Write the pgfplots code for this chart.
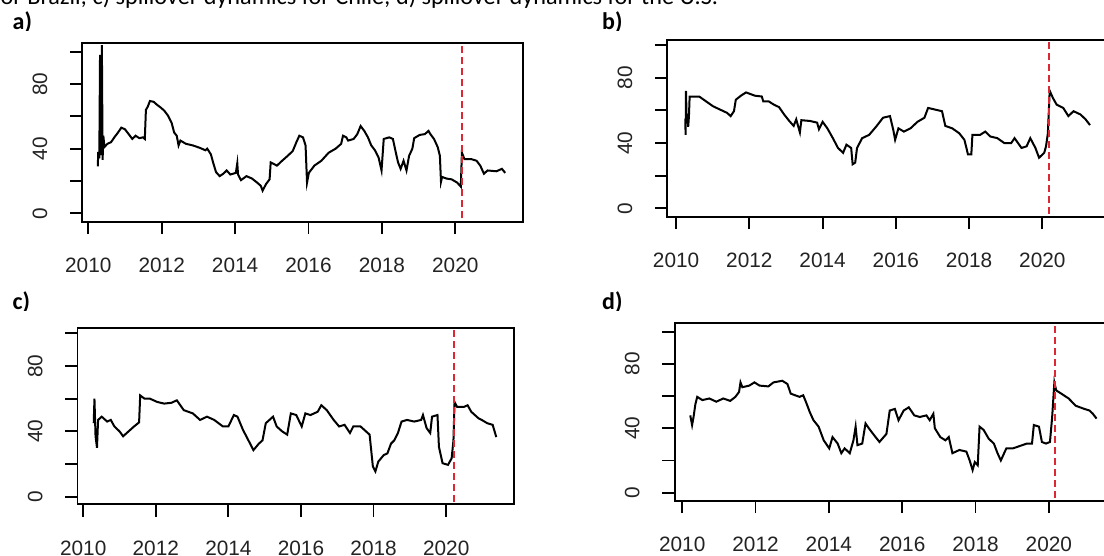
\documentclass[border=0pt]{standalone}
\usepackage{pgfplots}
\pgfplotsset{compat=1.18}
\usepackage{fontspec}
\setmainfont{Liberation Sans}
\newfontfamily\calib{Carlito}
\definecolor{rred}{RGB}{220,40,50}
\definecolor{tl}{RGB}{35,35,35}

\pgfplotstableread{
x y
2010.26 29
2010.27 38
2010.30 34
2010.32 98
2010.34 36
2010.37 104
2010.39 33
2010.41 48
2010.44 41
2010.52 43
2010.62 44
2010.71 47
2010.81 50
2010.90 53
2011.00 52
2011.10 49
2011.20 46
2011.29 48
2011.39 46.5
2011.49 47
2011.54 46
2011.57 64
2011.62 66
2011.68 69.5
2011.78 69
2011.88 67
2011.97 65.5
2012.07 63.5
2012.17 60.5
2012.27 56
2012.34 50
2012.41 48
2012.46 42
2012.51 45
2012.66 43
2012.85 42
2013.04 40.5
2013.19 39
2013.24 40
2013.34 36.5
2013.40 31.5
2013.48 25.5
2013.58 23
2013.68 24.5
2013.77 26.5
2013.87 24
2014.02 25
2014.06 31
2014.08 24
2014.16 20.5
2014.31 23
2014.46 21.5
2014.60 19
2014.70 17
2014.75 14
2014.84 18
2014.94 21
2014.97 31.5
2015.14 29.5
2015.28 32.5
2015.43 35.5
2015.57 38.5
2015.67 44
2015.75 48
2015.85 47
2015.92 42
2015.96 19
2016.01 25
2016.16 29.5
2016.35 32.5
2016.55 37.5
2016.74 40
2016.89 43
2016.94 48
2017.03 47
2017.08 45
2017.23 46
2017.33 49
2017.42 54
2017.52 51
2017.62 47
2017.71 42
2017.81 39
2017.91 34.5
2017.99 26.5
2018.05 46
2018.20 47
2018.30 46
2018.38 37.5
2018.44 31.5
2018.51 27.5
2018.59 32.5
2018.67 26.5
2018.74 35.5
2018.83 40
2018.88 46.5
2019.03 48.5
2019.17 49
2019.27 51
2019.32 49
2019.42 46
2019.52 41
2019.58 35.5
2019.61 19.5
2019.64 22.5
2019.76 21.5
2019.90 21
2020.05 19
2020.15 16.5
2020.18 37.5
2020.25 33.5
2020.44 33.5
2020.58 32.5
2020.68 29.5
2020.78 24.5
2020.88 26.5
2021.12 26
2021.27 27.5
2021.36 25
}\dataA

\pgfplotstableread{
x y
2010.25 55
2010.26 45
2010.27 72
2010.29 52
2010.31 58
2010.33 50
2010.35 56
2010.37 68.5
2010.63 68.5
2010.82 65.5
2011.01 62.5
2011.20 60.5
2011.39 58.5
2011.49 56.5
2011.58 59.5
2011.63 66.5
2011.77 69
2011.91 71
2012.15 69
2012.34 68.5
2012.38 65.5
2012.53 65.5
2012.67 63.5
2012.81 62
2012.95 57.5
2013.09 53.5
2013.21 50.5
2013.28 54.5
2013.38 46.5
2013.42 54
2013.66 53.5
2013.85 52.5
2013.90 48.5
2014.00 53
2014.13 49
2014.28 43
2014.42 37
2014.56 34
2014.65 39
2014.78 37
2014.82 27
2014.89 28
2014.94 37
2015.08 43
2015.27 45
2015.46 50
2015.65 55.5
2015.84 56.5
2015.93 48
2015.98 42
2016.07 49
2016.22 47
2016.40 49
2016.59 53
2016.78 55.5
2016.88 61.5
2017.07 60.5
2017.26 59.5
2017.35 50.5
2017.54 49
2017.73 46
2017.87 42
2017.97 33
2018.06 33
2018.09 45
2018.30 45
2018.44 47
2018.58 44
2018.77 43
2018.96 40
2019.15 40
2019.24 43
2019.43 37
2019.57 38
2019.67 43
2019.81 37
2019.91 31
2020.05 34
2020.10 38
2020.15 46
2020.20 72
2020.29 67.5
2020.39 63.5
2020.57 61.5
2020.71 56.5
2020.85 59.5
2021.04 57.5
2021.18 54.5
2021.30 51
}\dataB

\pgfplotstableread{
x y
2010.29 45
2010.31 60
2010.34 37
2010.38 30
2010.41 47
2010.51 49
2010.66 46
2010.76 47
2010.86 43
2011.00 40
2011.10 37
2011.25 40
2011.40 43
2011.54 45.5
2011.57 62
2011.69 60
2011.84 60
2012.04 58
2012.23 57
2012.43 57.5
2012.58 59
2012.77 53
2013.02 51
2013.22 47
2013.41 49
2013.61 47
2013.85 43
2014.00 43
2014.15 50
2014.25 49
2014.40 41
2014.54 35
2014.69 28.5
2014.84 32.5
2014.94 34.5
2015.03 45
2015.23 49
2015.33 43
2015.48 40
2015.62 38
2015.72 51
2015.87 50
2016.02 43
2016.12 51
2016.26 50
2016.46 52
2016.56 56
2016.71 53
2016.90 47
2017.05 43
2017.20 44
2017.35 39
2017.44 43
2017.64 43
2017.79 40
2017.89 38
2017.98 18.5
2018.05 15.5
2018.13 21.5
2018.28 25.5
2018.38 26.5
2018.48 32.5
2018.57 34.5
2018.67 39
2018.77 46
2018.92 47
2019.12 46
2019.31 47
2019.36 50
2019.46 42
2019.56 39
2019.61 49
2019.76 50
2019.80 30.5
2019.90 20.5
2020.05 19.5
2020.15 23.5
2020.20 34.5
2020.23 58
2020.30 55
2020.49 55
2020.59 56
2020.69 52
2020.89 48
2020.98 47
2021.13 45
2021.28 44
2021.38 36.5
}\dataC

\pgfplotstableread{
x y
2010.22 48
2010.27 42
2010.31 47
2010.36 55
2010.41 59.5
2010.55 57.5
2010.74 58.5
2010.93 56.5
2011.12 58.5
2011.31 57
2011.45 59.5
2011.55 62.5
2011.59 68.5
2011.64 65.5
2011.83 66.5
2011.97 68.5
2012.11 66.5
2012.35 66
2012.49 68.5
2012.73 69.5
2012.87 67.5
2012.96 61.5
2013.20 59.5
2013.30 60.5
2013.39 55.5
2013.48 50
2013.58 45
2013.72 41
2013.86 32.5
2014.01 27.5
2014.10 34.5
2014.24 30.5
2014.34 24.5
2014.43 27.5
2014.57 24.5
2014.67 32.5
2014.73 41
2014.78 29.5
2014.91 30.5
2015.00 43
2015.09 40
2015.24 35.5
2015.38 31.5
2015.57 36.5
2015.66 51
2015.80 52
2015.90 45
2016.04 51
2016.18 53
2016.33 48
2016.48 47
2016.66 48
2016.75 45
2016.85 49
2016.89 40
2017.04 34.5
2017.18 32.5
2017.27 34.5
2017.37 24.5
2017.56 26.5
2017.75 25.5
2017.84 20
2017.92 14
2017.98 19
2018.06 17
2018.11 41
2018.22 39
2018.36 33.5
2018.50 30.5
2018.60 24.5
2018.69 20
2018.84 27.5
2019.02 27.5
2019.21 29
2019.40 30.5
2019.54 30.5
2019.59 42
2019.73 41
2019.81 31.5
2019.92 30.5
2020.03 31.5
2020.09 47
2020.15 68.5
2020.20 63.5
2020.34 61.5
2020.54 58.5
2020.73 54
2020.97 52
2021.11 51
2021.20 49
2021.30 46
}\dataD

\pgfplotsset{rstyle/.style={
  scale only axis, enlargelimits=false, clip=true,
  axis line style={line width=1.8pt, black},
  tick style={line width=1.8pt, black},
  tick align=outside, major tick length=12.3pt,
  tick pos=left,
  xtick={2010,2012,2014,2016,2018,2020},
  xticklabels={2010,2012,2014,2016,2018,2020},
  ytick={0,20,40,60,80,100},
  yticklabels={0,,40,,80,},
  tick label style={font=\fontsize{20.8}{25}\selectfont, text=tl, inner sep=0pt},
  xticklabel style={anchor=north},
  yticklabel style={rotate=90, anchor=south},
  xticklabel shift=24.2pt,
  yticklabel shift=22.5pt,
}}

\begin{document}
\begin{tikzpicture}
\useasboundingbox (0pt,0pt) rectangle (1104pt,-556pt);
\clip (0pt,0pt) rectangle (1104pt,-556pt);
\fill[white] (0pt,0pt) rectangle (1104pt,-556pt);
\node[anchor=base west, inner sep=0pt, font=\calib\fontsize{24.2}{28}\selectfont] at (0.5pt,-4.5pt) {\llap{f}or Brazil; c) spillover dynamics for Chile; d) spillover dynamics for the U.S.};
\node[anchor=base west, inner sep=0pt, font=\calib\bfseries\fontsize{24}{28}\selectfont] at (12.5pt,-30pt) {a)};
\node[anchor=base west, inner sep=0pt, font=\calib\bfseries\fontsize{24}{28}\selectfont] at (602pt,-30pt) {b)};
\node[anchor=base west, inner sep=0pt, font=\calib\bfseries\fontsize{24}{28}\selectfont] at (12.5pt,-309.5pt) {c)};
\node[anchor=base west, inner sep=0pt, font=\calib\bfseries\fontsize{24}{28}\selectfont] at (602pt,-309.5pt) {d)};
\fill[white] (0pt,-31.5pt) rectangle (1104pt,-290pt);
\fill[white] (0pt,-311pt) rectangle (1104pt,-556pt);

\begin{axis}[rstyle, at={(82.2pt,-221.7pt)}, anchor=south west,
  width=441pt, height=178.4pt, xmin=2009.834, xmax=2021.85, ymin=-5.2, ymax=105.2]
\addplot[black, line width=2pt] table[x=x,y=y] {\dataA};
\addplot[rred, line width=1.8pt, dash pattern=on 7pt off 4pt] coordinates {(2020.19,-10) (2020.19,110)};
\end{axis}

\begin{axis}[rstyle, at={(667.3pt,-216.7pt)}, anchor=south west,
  width=441pt, height=176.7pt, xmin=2009.76, xmax=2021.80, ymin=-5.1, ymax=103.1]
\addplot[black, line width=2pt] table[x=x,y=y] {\dataB};
\addplot[rred, line width=1.8pt, dash pattern=on 7pt off 4pt] coordinates {(2020.18,-10) (2020.18,110)};
\end{axis}

\begin{axis}[rstyle, at={(77.5pt,-504.3pt)}, anchor=south west,
  width=436.5pt, height=176pt, xmin=2009.843, xmax=2021.868, ymin=-4.65, ymax=103.1]
\addplot[black, line width=2pt] table[x=x,y=y] {\dataC};
\addplot[rred, line width=1.8pt, dash pattern=on 7pt off 4pt] coordinates {(2020.21,-10) (2020.21,110)};
\end{axis}

\begin{axis}[rstyle, at={(674.6pt,-500.7pt)}, anchor=south west,
  width=441pt, height=177.4pt, xmin=2009.793, xmax=2021.82, ymin=-5, ymax=105.2]
\addplot[black, line width=2pt] table[x=x,y=y] {\dataD};
\addplot[rred, line width=1.8pt, dash pattern=on 7pt off 4pt] coordinates {(2020.16,-10) (2020.16,110)};
\end{axis}
\end{tikzpicture}
\end{document}
